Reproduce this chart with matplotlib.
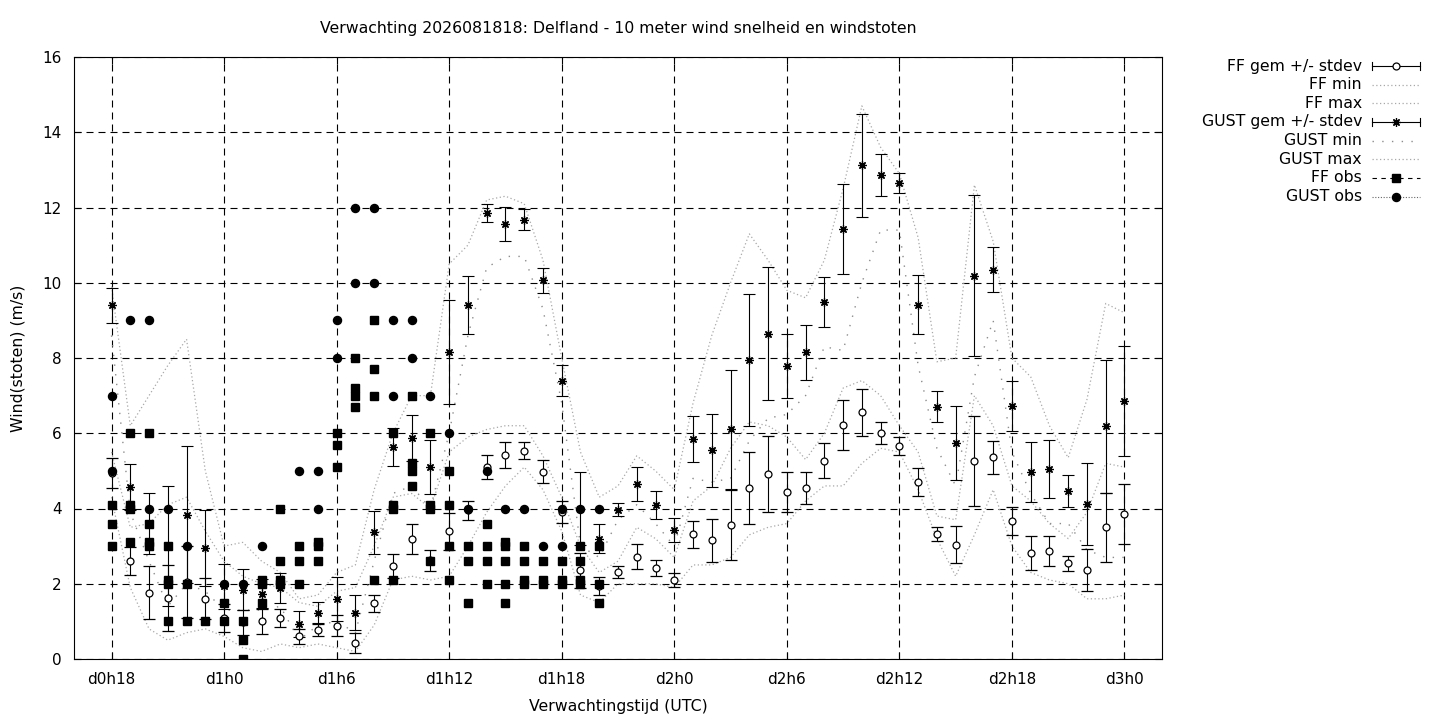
import numpy as np
import matplotlib
matplotlib.use("Agg")
import matplotlib.pyplot as plt
from matplotlib.lines import Line2D

# forecast hours (hours after d0h0)
uren = list(range(18, 73))

# ensemble mean and stdev, 10 m wind (FF) and gusts (GUST), m/s
ff_gem = [4.95, 2.61, 1.76, 1.62, 2.05, 1.60, 1.09, 0.98, 1.00, 1.09,
          0.61, 0.77, 0.89, 0.43, 1.48, 2.48, 3.19, 2.62, 3.40, 3.95,
          5.11, 5.43, 5.54, 4.98, 3.91, 2.36, 1.94, 2.31, 2.72, 2.42,
          2.10, 3.31, 3.16, 3.55, 4.55, 4.92, 4.44, 4.55, 5.27, 6.22,
          6.56, 6.00, 5.66, 4.70, 3.32, 3.04, 5.26, 5.36, 3.67, 2.82,
          2.87, 2.54, 2.37, 3.50, 3.85]
ff_sd = [0.40, 0.37, 0.70, 0.87, 0.95, 0.55, 0.38, 0.33, 0.33, 0.25,
         0.20, 0.15, 0.28, 0.27, 0.23, 0.32, 0.39, 0.28, 0.49, 0.25,
         0.32, 0.35, 0.23, 0.30, 0.29, 0.47, 0.24, 0.17, 0.33, 0.22,
         0.19, 0.35, 0.57, 0.93, 0.96, 1.00, 0.53, 0.42, 0.46, 0.67,
         0.62, 0.29, 0.25, 0.37, 0.18, 0.50, 1.20, 0.43, 0.37, 0.45,
         0.40, 0.21, 0.56, 0.91, 0.79]
gust_gem = [9.40, 4.57, 3.60, 3.00, 3.84, 2.95, 1.93, 1.84, 1.74, 1.89,
            0.93, 1.23, 1.60, 1.23, 3.37, 5.64, 5.87, 5.10, 8.15, 9.40,
            11.85, 11.57, 11.68, 10.06, 7.40, 4.00, 3.20, 3.97, 4.65, 4.10,
            3.43, 5.85, 5.55, 6.10, 7.95, 8.65, 7.80, 8.15, 9.48, 11.42,
            13.12, 12.86, 12.66, 9.42, 6.70, 5.74, 10.18, 10.35, 6.72, 4.97,
            5.04, 4.46, 4.12, 6.18, 6.85]
gust_sd = [0.46, 0.61, 0.80, 1.60, 1.82, 1.00, 0.60, 0.55, 0.38, 0.40,
           0.35, 0.28, 0.58, 0.47, 0.57, 0.50, 0.62, 0.72, 1.38, 0.77,
           0.24, 0.45, 0.27, 0.33, 0.41, 0.98, 0.38, 0.17, 0.46, 0.37,
           0.32, 0.62, 0.97, 1.58, 1.76, 1.77, 0.85, 0.74, 0.66, 1.20,
           1.36, 0.55, 0.27, 0.79, 0.41, 0.99, 2.14, 0.60, 0.66, 0.81,
           0.77, 0.43, 1.10, 1.77, 1.46]

# ensemble min / max
ff_min = [4.3, 1.9, 0.8, 0.5, 0.7, 0.8, 0.6, 0.3, 0.2, 0.4,
          0.3, 0.4, 0.3, 0.2, 0.9, 2.1, 2.2, 2.1, 2.2, 3.0,
          3.9, 4.6, 5.1, 4.5, 3.4, 1.7, 1.5, 2.0, 2.0, 2.0,
          1.9, 2.5, 2.5, 2.7, 3.3, 3.5, 3.6, 4.2, 4.6, 4.6,
          5.2, 5.6, 5.5, 4.5, 3.2, 2.2, 3.3, 4.5, 3.0, 2.3,
          2.1, 2.0, 1.6, 1.6, 1.7]
ff_max = [5.5, 3.5, 3.6, 4.1, 4.3, 3.4, 2.6, 2.2, 2.0, 1.9,
          1.5, 1.4, 1.8, 1.9, 3.0, 4.3, 4.4, 4.0, 5.5, 5.9,
          6.1, 6.2, 6.2, 5.4, 4.3, 3.0, 2.3, 2.6, 3.5, 3.2,
          2.7, 4.2, 4.6, 5.6, 6.3, 6.2, 5.9, 5.3, 6.0, 7.2,
          7.4, 7.0, 6.2, 5.5, 3.8, 3.7, 7.0, 6.2, 4.6, 4.2,
          3.6, 3.2, 3.9, 5.2, 5.1]
gust_min = [8.6, 3.9, 2.6, 1.4, 2.0, 1.8, 1.3, 1.3, 1.3, 1.4,
            0.5, 0.9, 1.0, 0.7, 2.6, 4.4, 4.6, 4.0, 6.0, 8.6,
            10.4, 10.7, 10.7, 9.3, 6.8, 3.0, 2.7, 3.7, 4.1, 3.6,
            3.0, 4.8, 4.7, 4.8, 5.8, 6.4, 6.5, 7.0, 8.3, 8.2,
            10.0, 11.4, 11.4, 7.8, 5.6, 4.6, 7.5, 9.0, 5.5, 4.4,
            3.6, 3.6, 2.9, 2.7, 2.7]
gust_max = [9.9, 6.2, 7.0, 7.8, 8.5, 5.0, 3.0, 3.1, 2.6, 2.3,
            1.6, 1.7, 2.3, 2.5, 4.5, 6.0, 7.0, 7.0, 10.5, 11.0,
            12.2, 12.3, 12.1, 10.6, 8.0, 5.5, 4.3, 4.6, 5.4, 5.0,
            4.5, 6.8, 8.6, 10.0, 11.3, 10.6, 9.8, 9.6, 10.6, 12.5,
            14.7, 13.6, 12.9, 11.2, 7.9, 8.0, 12.6, 11.1, 8.0, 7.5,
            6.2, 5.35, 6.9, 9.45, 9.2]

# station observations per hour
ff_obs = {18: [4.1, 3.6, 3.0], 19: [6.0, 4.1, 4.0, 3.1], 20: [6.0, 3.6, 3.1, 3.0],
          21: [3.0, 2.1, 2.0, 1.0], 22: [2.0, 1.0], 23: [1.0], 24: [1.5, 1.0],
          25: [1.0, 0.5, 0.0], 26: [2.1, 2.0, 1.5], 27: [4.0, 2.6, 2.1, 2.0],
          28: [3.0, 2.6, 2.0], 29: [3.1, 3.0, 2.6], 30: [6.0, 5.7, 5.1],
          31: [8.0, 7.2, 7.0, 6.7], 32: [9.0, 7.7, 7.0, 2.1], 33: [6.0, 4.1, 4.0, 2.1],
          34: [7.0, 5.2, 5.0, 4.6], 35: [6.0, 4.1, 4.0, 2.6], 36: [5.0, 4.1, 3.0, 2.1],
          37: [3.0, 2.6, 1.5], 38: [3.6, 3.0, 2.6, 2.0], 39: [3.1, 3.0, 2.6, 2.0, 1.5],
          40: [3.0, 2.6, 2.1, 2.0], 41: [2.6, 2.1, 2.0], 42: [2.6, 2.1, 2.0],
          43: [3.0, 2.6, 2.1, 2.0], 44: [3.0, 2.0, 1.5]}
gust_obs = {18: [7.0, 5.0], 19: [9.0], 20: [9.0, 4.0], 21: [4.0], 22: [3.0],
            24: [2.0], 25: [2.0], 26: [3.0, 2.0], 27: [2.0], 28: [5.0], 29: [5.0, 4.0],
            30: [9.0, 8.0], 31: [12.0, 10.0], 32: [12.0, 10.0], 33: [9.0, 7.0],
            34: [9.0, 8.0], 35: [7.0], 36: [6.0], 37: [4.0], 38: [5.0], 39: [4.0],
            40: [4.0], 41: [3.0], 42: [4.0, 3.0], 43: [4.0], 44: [4.0]}

tick_uren = [18, 24, 30, 36, 42, 48, 54, 60, 66, 72]
tick_labels = ["d0h18", "d1h0", "d1h6", "d1h12", "d1h18",
               "d2h0", "d2h6", "d2h12", "d2h18", "d3h0"]

titel = "Verwachting 2026081818: Delfland - 10 meter wind snelheid en windstoten"

plt.rcParams['font.family'] = ['DejaVu Sans']
plt.rcParams['font.size'] = 11
tekst = 11.3

W, H = 1440, 720
fig = plt.figure(figsize=(W / 100, H / 100), dpi=100)
ax = fig.add_axes([74 / W, 1 - 659 / H, (1162 - 74) / W, (659 - 57) / H])

star = (8, 2, 0)
fine = (0, (1, 2))
sparse = (0, (1, 6))
grijs = '#a8a8a8'
grijs2 = '#8c8c8c'
cap = 4.3

ax.errorbar(uren, ff_gem, yerr=ff_sd, fmt='o', color='black', mfc='white', mec='black',
            ms=5, mew=0.9, elinewidth=0.8, capsize=cap, capthick=0.8, zorder=3)
ax.plot(uren, ff_min, color=grijs, ls=fine, lw=0.9, zorder=2)
ax.plot(uren, ff_max, color=grijs, ls=fine, lw=0.9, zorder=2)
ax.errorbar(uren, gust_gem, yerr=gust_sd, fmt='none', ecolor='black',
            elinewidth=0.8, capsize=cap, capthick=0.8, zorder=3)
ax.plot(uren, gust_gem, ls='none', marker=star, color='black', ms=6, mew=0.9, zorder=4)
ax.plot(uren, gust_min, color=grijs2, ls=sparse, lw=1.0, zorder=2)
ax.plot(uren, gust_max, color=grijs, ls=fine, lw=0.9, zorder=2)

for u, vals in ff_obs.items():
    ax.plot([u] * len(vals), vals, ls='none', marker='s', ms=5.3, color='black', zorder=5)
for u, vals in gust_obs.items():
    ax.plot([u] * len(vals), vals, ls='none', marker='o', ms=5.8, color='black', zorder=5)

ax.set_xlim(16, 74)
ax.set_ylim(0, 16)
ax.set_xticks(tick_uren)
ax.set_xticklabels(tick_labels)
ax.set_yticks(np.arange(0, 17, 2))
ax.grid(True, color='black', ls=(0, (6.3, 4.5)), lw=0.8)
ax.set_axisbelow(True)
ax.tick_params(direction='in', top=True, right=True, length=5, width=0.8, pad=9)
for s in ax.spines.values():
    s.set_linewidth(0.8)

fig.text(618 / W, 1 - 29 / H, titel, ha='center', va='center', fontsize=tekst)
fig.text(618 / W, 1 - 707 / H, "Verwachtingstijd (UTC)", ha='center', va='center', fontsize=tekst)
fig.text(18 / W, 1 - 358 / H, "Wind(stoten) (m/s)", ha='center', va='center', rotation=90,
         fontsize=tekst)

# legend, drawn by hand like gnuplot's key
namen = ["FF gem +/- stdev", "FF min", "FF max", "GUST gem +/- stdev",
         "GUST min", "GUST max", "FF obs", "GUST obs"]
x0, x1 = 1372, 1420
xm = (x0 + x1) / 2
for i, naam in enumerate(namen):
    py = 66 + i * 18.65
    fy = 1 - py / H
    fig.text(1362 / W, fy, naam, ha='right', va='center', fontsize=tekst)
    if naam.endswith("stdev"):
        fig.add_artist(Line2D([x0 / W, x1 / W], [fy, fy], color='black', lw=0.8,
                              transform=fig.transFigure))
        for xc in (x0, x1):
            fig.add_artist(Line2D([xc / W, xc / W], [fy - 4 / H, fy + 4 / H], color='black',
                                  lw=0.8, transform=fig.transFigure))
        if naam.startswith("FF"):
            fig.add_artist(Line2D([xm / W], [fy], ls='none', marker='o', ms=5, mfc='white',
                                  mec='black', mew=0.9, transform=fig.transFigure))
        else:
            fig.add_artist(Line2D([xm / W], [fy], ls='none', marker=star, ms=6, color='black',
                                  mew=0.9, transform=fig.transFigure))
    elif naam == "GUST min":
        fig.add_artist(Line2D([x0 / W, x1 / W], [fy, fy], color=grijs2, ls=sparse, lw=1.0,
                              transform=fig.transFigure))
    elif naam in ("FF min", "FF max", "GUST max"):
        fig.add_artist(Line2D([x0 / W, x1 / W], [fy, fy], color=grijs, ls=fine, lw=0.9,
                              transform=fig.transFigure))
    elif naam == "FF obs":
        fig.add_artist(Line2D([x0 / W, x1 / W], [fy, fy], color='black', ls=(0, (4, 4)), lw=0.8,
                              transform=fig.transFigure))
        fig.add_artist(Line2D([xm / W], [fy], ls='none', marker='s', ms=5.3, color='black',
                              transform=fig.transFigure))
    else:
        fig.add_artist(Line2D([x0 / W, x1 / W], [fy, fy], color='#666666', ls=(0, (1, 1.5)),
                              lw=0.8, transform=fig.transFigure))
        fig.add_artist(Line2D([xm / W], [fy], ls='none', marker='o', ms=5.8, color='black',
                              transform=fig.transFigure))

fig.savefig("out.png", dpi=100)
